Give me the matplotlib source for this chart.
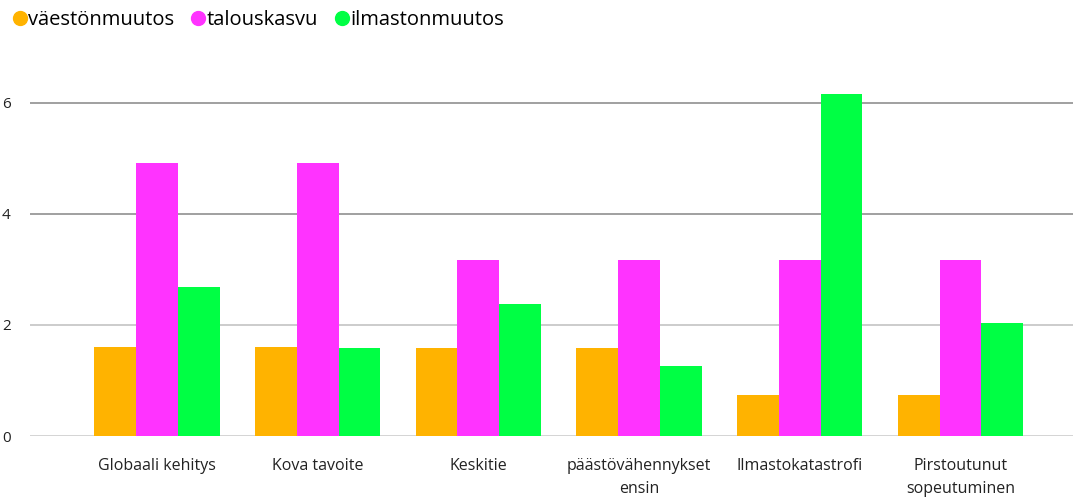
import matplotlib.pyplot as plt
import numpy as np

# Scenario names and values per driver
scenarios = ['Globaali kehitys', 'Kova tavoite', 'Keskitie',
             'päästövähennykset\nensin', 'Ilmastokatastrofi',
             'Pirstoutunut\nsopeutuminen']
vaestonmuutos = [1.6, 1.6, 1.59, 1.59, 0.74, 0.74]
talouskasvu = [4.92, 4.92, 3.17, 3.17, 3.17, 3.17]
ilmastonmuutos = [2.68, 1.59, 2.38, 1.26, 6.16, 2.04]

series = [('väestönmuutos', vaestonmuutos, '#ffb300'),
          ('talouskasvu', talouskasvu, '#ff33ff'),
          ('ilmastonmuutos', ilmastonmuutos, '#00ff44')]

plt.rcParams['font.family'] = ['Open Sans', 'DejaVu Sans']

fig = plt.figure(figsize=(10.73, 4.99), dpi=100)
ax = fig.add_axes([30 / 1073, 63 / 499, 1 - 30 / 1073, 361 / 499])

x = np.arange(len(scenarios))
w = 0.26
for i, (name, vals, col) in enumerate(series):
    ax.bar(x + (i - 1) * w, vals, width=w, color=col, label=name, zorder=3)

ax.set_xlim(-0.79, 5.70)
ax.set_ylim(0, 6.5)
ax.set_yticks([0, 2, 4, 6])
# darker upper gridlines, lighter lower ones, like the original
for yv, gc in [(0, '#d4d4d4'), (2, '#cccccc'), (4, '#a0a0a0'), (6, '#a0a0a0')]:
    ax.axhline(yv, color=gc, linewidth=1.4, zorder=0)
ax.set_xticks(x)
ax.set_xticklabels(scenarios, fontsize=11.5, color='#222222', linespacing=1.55)
ax.tick_params(axis='x', length=0, pad=16)
ax.tick_params(axis='y', length=0, pad=14, labelsize=11, labelcolor='#222222')
for s in ax.spines.values():
    s.set_visible(False)

handles = [plt.Line2D([], [], marker='o', linestyle='', color=c, markersize=10)
           for _, _, c in series]
fig.legend(handles, [n for n, _, _ in series], loc='upper left',
           bbox_to_anchor=(0.0, 1.0), ncol=3, frameon=False, fontsize=14.5,
           handletextpad=-0.1, columnspacing=0.7, borderaxespad=0.1,
           handlelength=1.0)

fig.savefig('out.png', dpi=100)
